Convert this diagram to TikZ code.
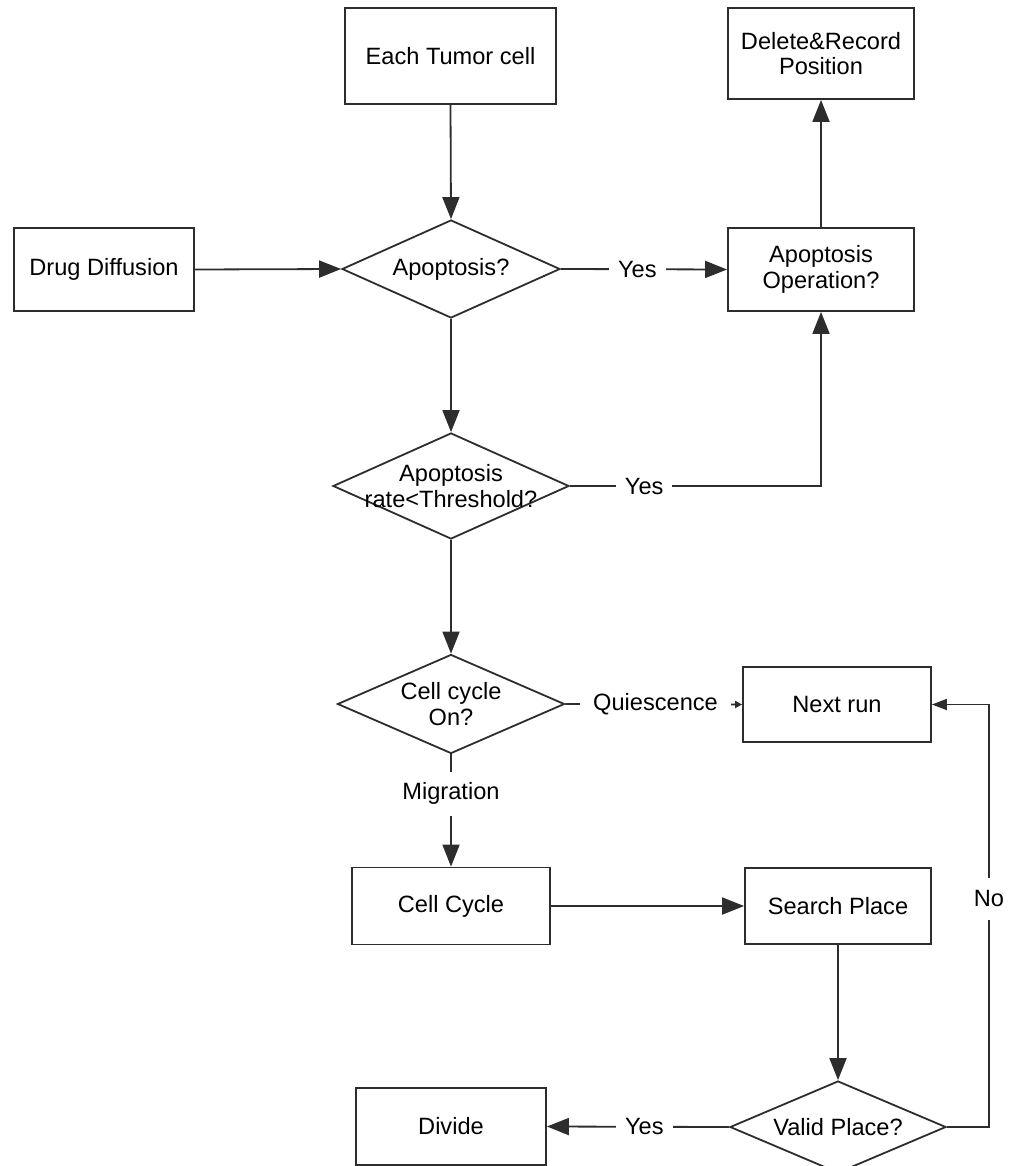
\documentclass[tikz,border=0pt]{standalone}
\usepackage{fontspec}
\setmainfont{Liberation Sans}
\usetikzlibrary{arrows.meta,shapes.geometric}
\definecolor{linec}{RGB}{45,45,45}
\begin{document}
\begin{tikzpicture}[x=1pt,y=-1pt,
  every node/.style={font=\fontsize{23.6}{25.5}\selectfont, text=black},
  box/.style={draw=linec, line width=1.8pt, fill=white, inner sep=0pt, align=center},
  dia/.style={draw=linec, line width=1.8pt, shape=diamond, inner sep=0pt},
  ln/.style={draw=linec, line width=1.8pt},
  arr/.style={ln, -{Triangle[length=22pt,width=17pt]}},
  lbl/.style={fill=white, inner xsep=9pt, inner ysep=4pt}]
\useasboundingbox (0,0) rectangle (1019,1166);

% boxes
\node[box, minimum width=211pt, minimum height=96pt] (etc) at (450.5,56) {Each Tumor cell};
\node[box, minimum width=186pt, minimum height=91pt] (del) at (821,53.5) {Delete\&Record\\Position};
\node[box, minimum width=180pt, minimum height=83pt] (drug) at (104,269.5) {Drug Diffusion};
\node[box, minimum width=186pt, minimum height=83pt] (aop) at (821,269.5) {Apoptosis\\Operation?};
\node[box, minimum width=188pt, minimum height=75pt] (nr) at (837,704.5) {Next run};
\node[box, minimum width=198pt, minimum height=77pt] (cc) at (451,906) {Cell Cycle};
\node[box, minimum width=186pt, minimum height=76pt] (sp) at (838,906) {Search Place};
\node[box, minimum width=190pt, minimum height=77pt] (div) at (451,1126.5) {Divide};

% diamonds
\node[dia, minimum width=218pt, minimum height=98pt] (d1) at (451,269) {};
\node[align=center] (d1t) at (d1.center) {Apoptosis?};
\node[dia, minimum width=236pt, minimum height=106pt] (d2) at (451,486) {};
\node[align=center] (d2t) at (d2.center) {Apoptosis\\rate<Threshold?};
\node[dia, minimum width=227pt, minimum height=99pt] (d3) at (451,704) {};
\node[align=center] (d3t) at (d3.center) {Cell cycle\\On?};
\node[dia, minimum width=216pt, minimum height=92pt] (d4) at (838,1127) {};
\node[align=center] (d4t) at (d4.center) {Valid Place?};

% connectors
\draw[arr] (etc.south) -- (d1.north);
\draw[arr] (drug.east) -- (d1.west);
\draw[arr] (d1.east) -- node[lbl, pos=0.46] {Yes} (aop.west);
\draw[arr] (aop.north) -- (del.south);
\draw[arr] (d1.south) -- (d2.north);
\draw[arr] (d2.east) -| node[lbl, pos=0.148] {Yes} (aop.south);
\draw[arr] (d2.south) -- (d3.north);
\draw[ln, -{Triangle[length=7pt,width=7pt]}] (d3.east) -- node[lbl, inner xsep=13pt, pos=0.51] {Quiescence} (nr.west);
\draw[arr] (d3.south) -- node[lbl, inner ysep=11pt, pos=0.35] {Migration} (cc.north);
\draw[arr] (cc.east) -- (sp.west);
\draw[arr] (sp.south) -- (d4.north);
\draw[arr] (d4.west) -- node[lbl, pos=0.465] {Yes} (div.east);
\draw[ln, -{Triangle[length=15pt,width=11pt]}] (d4.east) -- ++(42,0) |- node[lbl, inner xsep=2pt, inner ysep=13pt, pos=0.27] {No} (nr.east);
\end{tikzpicture}
\end{document}
